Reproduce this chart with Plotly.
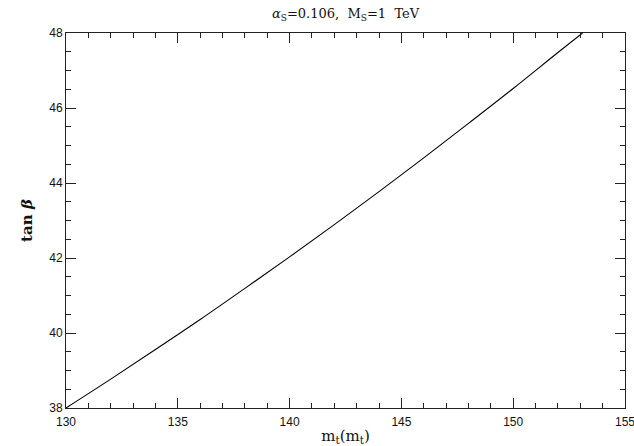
import plotly.graph_objects as go

# data
mt = [130, 132, 134, 136, 138, 140, 142, 144, 146, 148, 150, 152, 153.1]
tanb = [38.0, 38.77, 39.56, 40.36, 41.19, 42.03, 42.89, 43.77, 44.67, 45.59, 46.52, 47.48, 48.0]

x_ticks = [130, 135, 140, 145, 150, 155]
y_ticks = [38, 40, 42, 44, 46, 48]

fig = go.Figure()
fig.add_trace(go.Scatter(x=mt, y=tanb, mode="lines",
                         line=dict(color="black", width=1.1, shape="spline"),
                         showlegend=False, hoverinfo="skip"))

axis_common = dict(showline=True, linecolor="#222", linewidth=1, mirror="allticks",
                   ticks="inside", ticklen=10, tickcolor="#222", tickwidth=1,
                   showgrid=False, zeroline=False, ticklabeloverflow="allow", automargin=False,
                   tickfont=dict(family="Liberation Sans, Arial, sans-serif", size=12, color="#111"))

fig.update_xaxes(range=[130, 155], tickvals=x_ticks, ticktext=[str(v) for v in x_ticks],
                 ticklabelstandoff=3,
                 minor=dict(dtick=1, tick0=130, ticklen=5, ticks="inside", tickcolor="#222", tickwidth=1),
                 title=dict(text="m<sub>t</sub>(m<sub>t</sub>)", standoff=3,
                            font=dict(family="DejaVu Serif, Liberation Serif, serif", size=15, color="#111")),
                 **axis_common)
fig.update_yaxes(range=[38, 48], tickvals=y_ticks, ticktext=[str(v) for v in y_ticks],
                 minor=dict(dtick=0.5, tick0=38, ticklen=5, ticks="inside", tickcolor="#222", tickwidth=1),
                 title=dict(text="<b>tan <i>β</i></b>", standoff=12,
                            font=dict(family="DejaVu Serif, Liberation Serif, serif", size=15, color="#111")),
                 **axis_common)

fig.update_layout(
    width=634, height=446,
    margin=dict(l=66, r=9, t=33, b=38, autoexpand=False),
    paper_bgcolor="white", plot_bgcolor="white",
    title=dict(text="<i>α</i><sub>S</sub>=0.106,  M<sub>S</sub>=1  TeV",
               x=(66 + 625) / 2 / 634, xanchor="center", y=0.97, yanchor="middle",
               font=dict(family="DejaVu Serif, Liberation Serif, serif", size=13, color="#111")),
)

fig.write_html("out.html")
